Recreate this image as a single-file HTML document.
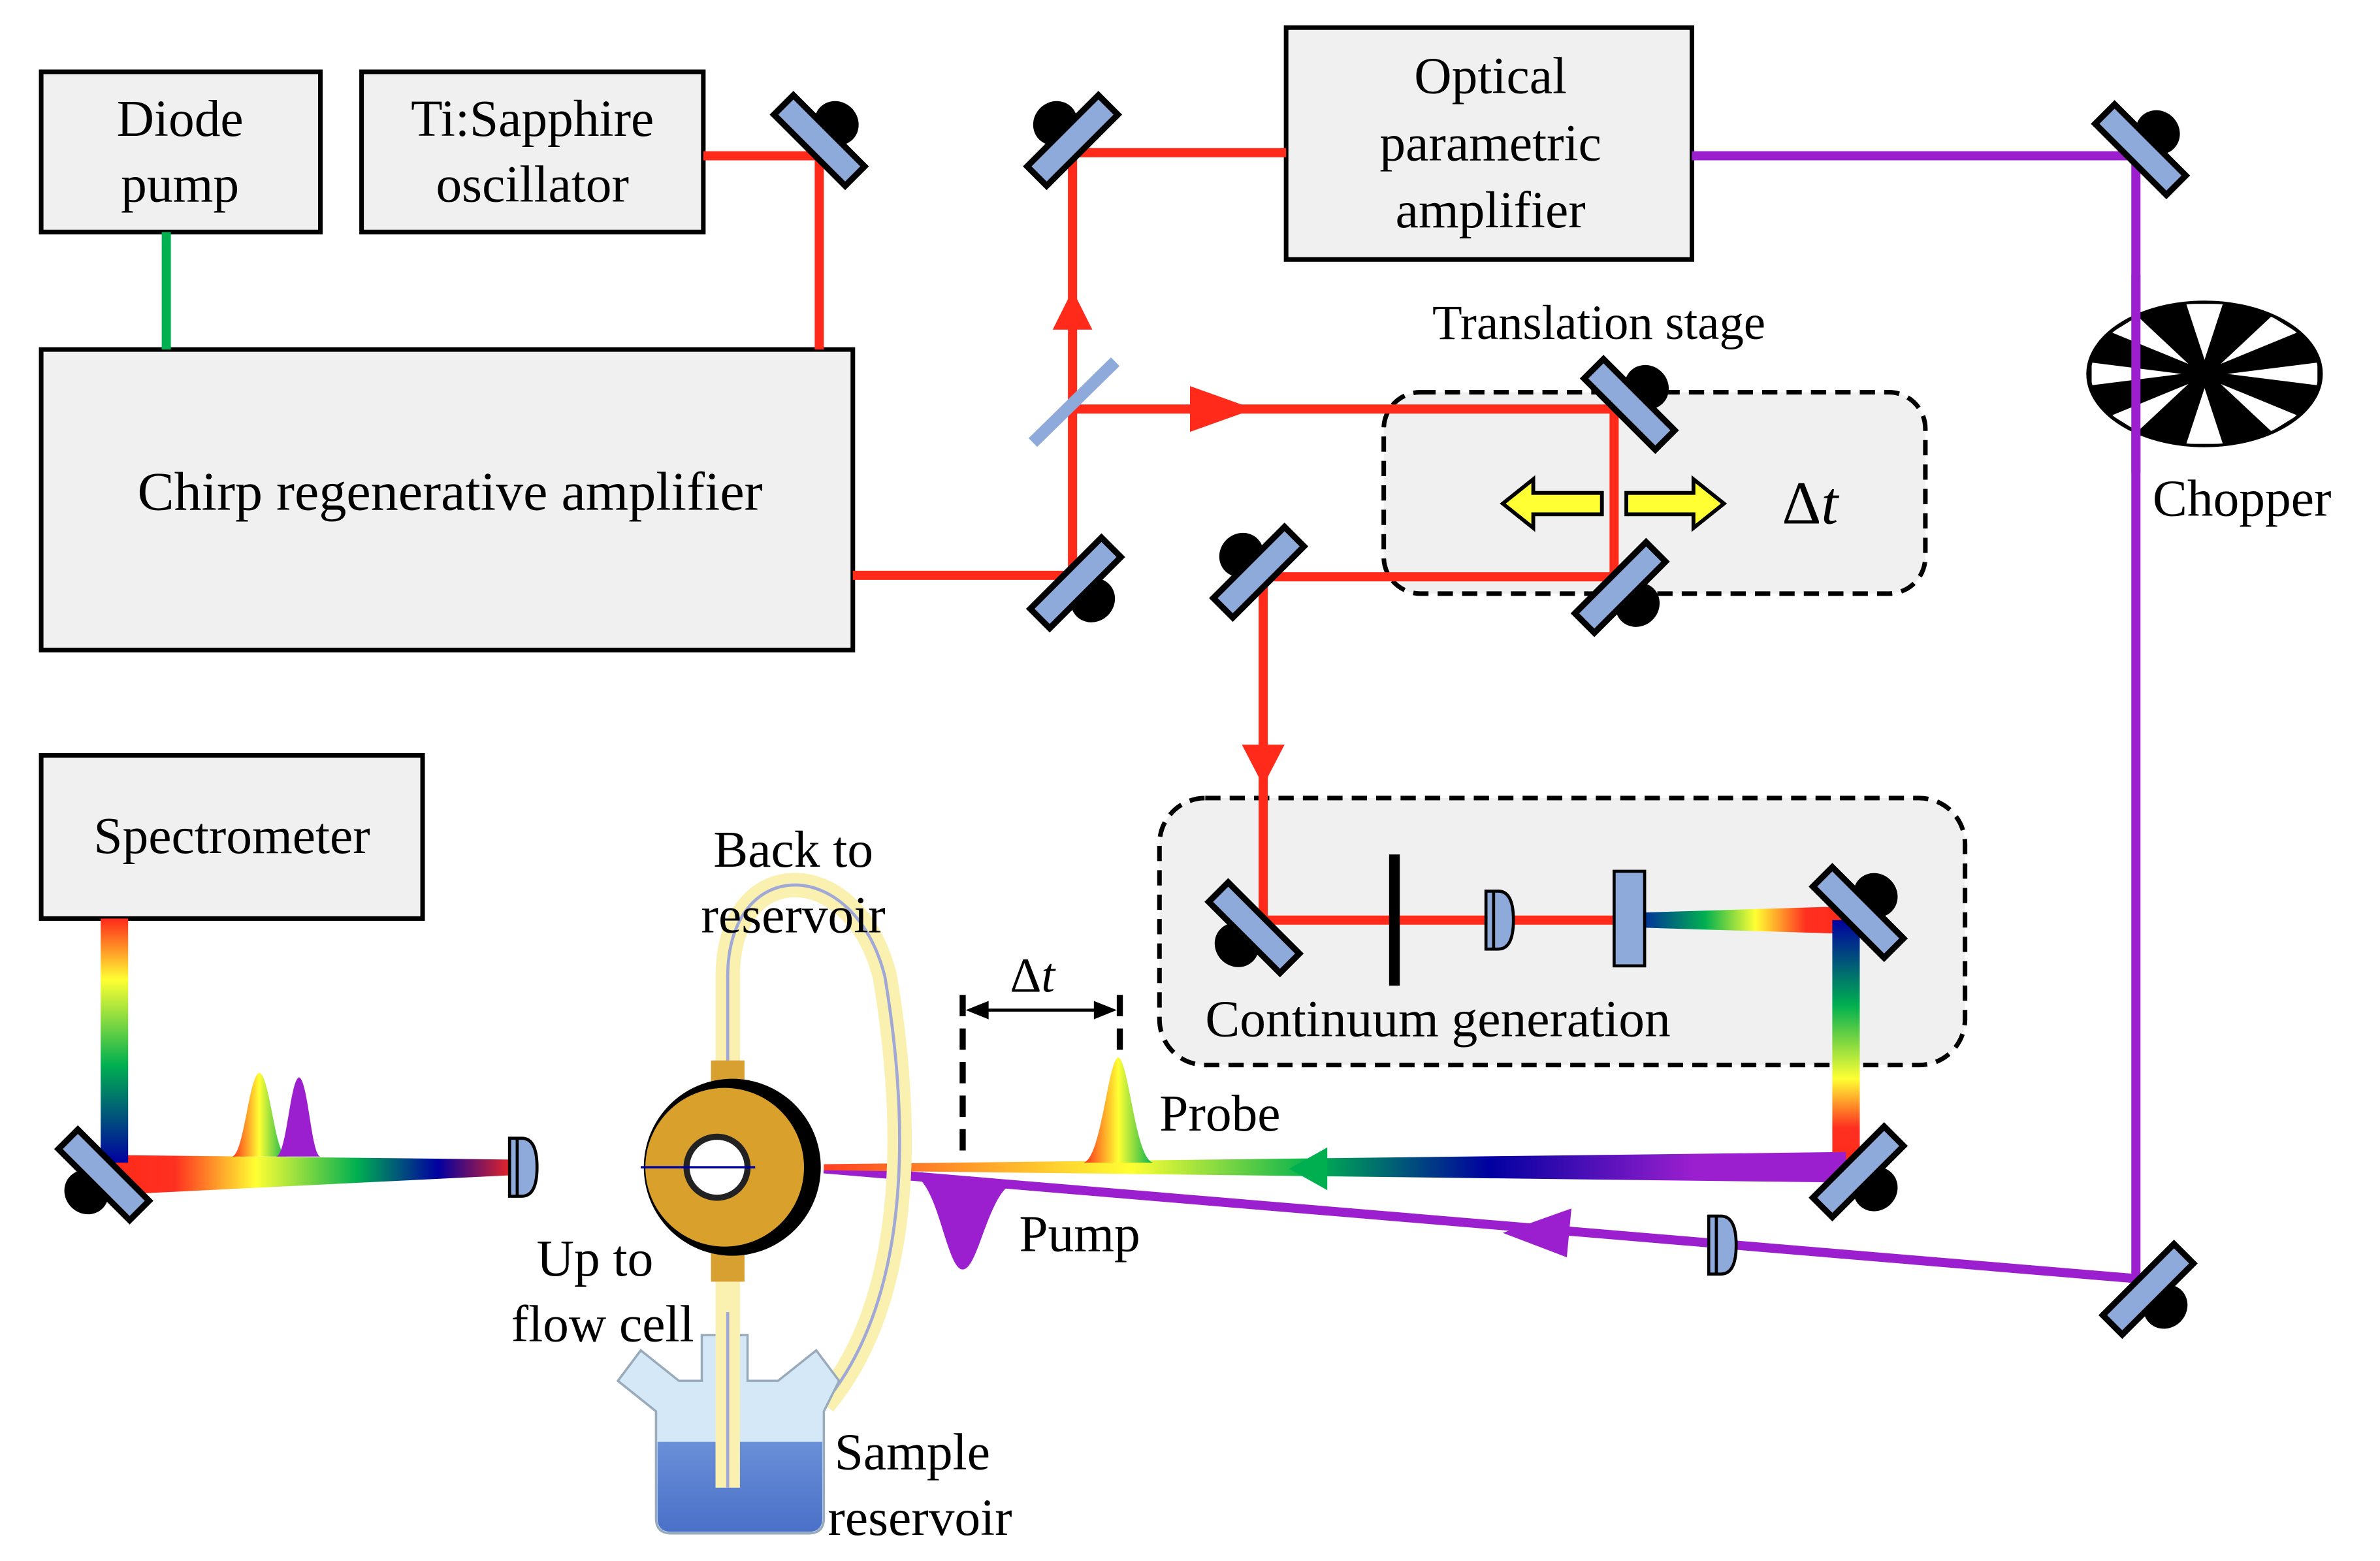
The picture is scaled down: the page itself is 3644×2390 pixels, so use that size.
<!DOCTYPE html>
<html><head><meta charset="utf-8"><style>
html,body{margin:0;padding:0;background:#fff;}
svg{display:block;}
text{font-family:"Liberation Serif",serif;fill:#000;}
</style></head><body>
<svg width="3644" height="2390" viewBox="0 0 1560 1023" xmlns="http://www.w3.org/2000/svg">
<defs>
<g id="m">
  <ellipse cx="0" cy="16" rx="15" ry="14" fill="#000"/>
  <rect x="-33" y="-9" width="66" height="18" fill="#8eaadb" stroke="#000" stroke-width="4"/>
</g>
<g id="lens">
  <path d="M-8,-19 L0,-19 Q10,-19 10,0 Q10,19 0,19 L-8,19 Z" fill="#8eaadb" stroke="#000" stroke-width="2"/>
  <line x1="-3" y1="-19" x2="-3" y2="19" stroke="#000" stroke-width="2"/>
</g>
<linearGradient id="vg1" x1="0" y1="0" x2="1" y2="0">
  <stop offset="0" stop-color="#003399"/><stop offset="0.3" stop-color="#00b050"/><stop offset="0.55" stop-color="#ffff33"/><stop offset="0.8" stop-color="#ff3020"/><stop offset="1" stop-color="#ff2a1a"/>
</linearGradient>
<linearGradient id="vg2" x1="0" y1="0" x2="0" y2="1">
  <stop offset="0" stop-color="#0000a0"/><stop offset="0.35" stop-color="#00b050"/><stop offset="0.65" stop-color="#ffff33"/><stop offset="0.85" stop-color="#ff3020"/><stop offset="1" stop-color="#ff2a1a"/>
</linearGradient>
<linearGradient id="probe" x1="0" y1="0" x2="1" y2="0">
  <stop offset="0" stop-color="#ff4020"/><stop offset="0.3" stop-color="#ffff33"/><stop offset="0.48" stop-color="#00b050"/><stop offset="0.65" stop-color="#0000a0"/><stop offset="0.85" stop-color="#9b1fcf"/><stop offset="1" stop-color="#9b1fcf"/>
</linearGradient>
<linearGradient id="left" x1="0" y1="0" x2="1" y2="0">
  <stop offset="0" stop-color="#ff2a1a"/><stop offset="0.15" stop-color="#ff3020"/><stop offset="0.35" stop-color="#ffff33"/><stop offset="0.6" stop-color="#00b050"/><stop offset="0.8" stop-color="#0000a0"/><stop offset="1" stop-color="#ff2a1a"/>
</linearGradient>
<linearGradient id="spec" x1="0" y1="0" x2="0" y2="1">
  <stop offset="0" stop-color="#ff2a1a"/><stop offset="0.25" stop-color="#ffff33"/><stop offset="0.6" stop-color="#00b050"/><stop offset="1" stop-color="#0000a0"/>
</linearGradient>
<linearGradient id="pulse" x1="0" y1="0" x2="1" y2="0">
  <stop offset="0" stop-color="#ff2a1a"/><stop offset="0.5" stop-color="#ffff33"/><stop offset="1" stop-color="#00b050"/>
</linearGradient>
<linearGradient id="cell" x1="0" y1="0" x2="1" y2="0">
  <stop offset="0" stop-color="#ffff33"/><stop offset="0.5" stop-color="#00b050"/><stop offset="1" stop-color="#0000a0"/>
</linearGradient>
<linearGradient id="water" x1="0" y1="0" x2="0" y2="1">
  <stop offset="0" stop-color="#6a8fd8"/><stop offset="1" stop-color="#4a70c8"/>
</linearGradient>
</defs>

<!-- Boxes -->
<rect x="27" y="47" width="183" height="105" fill="#f0f0f0" stroke="#000" stroke-width="3"/>
<text x="118" y="89" font-size="34" text-anchor="middle">Diode</text>
<text x="118" y="132" font-size="34" text-anchor="middle">pump</text>
<rect x="237" y="47" width="224" height="105" fill="#f0f0f0" stroke="#000" stroke-width="3"/>
<text x="349" y="89" font-size="34" text-anchor="middle">Ti:Sapphire</text>
<text x="349" y="132" font-size="34" text-anchor="middle">oscillator</text>
<rect x="27" y="229" width="532" height="197" fill="#f0f0f0" stroke="#000" stroke-width="3"/>
<text x="295" y="334" font-size="36" text-anchor="middle">Chirp regenerative amplifier</text>
<rect x="843" y="18" width="266" height="152" fill="#f0f0f0" stroke="#000" stroke-width="3"/>
<text x="977" y="61" font-size="34" text-anchor="middle">Optical</text>
<text x="977" y="105" font-size="34" text-anchor="middle">parametric</text>
<text x="977" y="149" font-size="34" text-anchor="middle">amplifier</text>
<rect x="27" y="495" width="250" height="107" fill="#f0f0f0" stroke="#000" stroke-width="3"/>
<text x="152" y="559" font-size="34" text-anchor="middle">Spectrometer</text>

<!-- dashed boxes -->
<rect x="907" y="257" width="355" height="132" rx="24" fill="#f0f0f0" stroke="#000" stroke-width="3" stroke-dasharray="10,6"/>
<rect x="760" y="523" width="528" height="175" rx="30" fill="#f0f0f0" stroke="#000" stroke-width="3" stroke-dasharray="10,6"/>

<!-- green -->
<line x1="109" y1="152" x2="109" y2="229" stroke="#00b050" stroke-width="6"/>
<!-- red beams -->
<g stroke="#ff2a1a" stroke-width="6" fill="none">
<polyline points="461,102 537,102 537,229"/>
<polyline points="559,377 703,377 703,100 843,100"/>
<polyline points="703,268 1058,268 1058,378 828,378 828,603 1060,603"/>
</g>
<polygon points="703,190 690,216 716,216" fill="#ff2a1a"/>
<polygon points="822,268 780,253 780,283" fill="#ff2a1a"/>
<polygon points="828,515 814,488 842,488" fill="#ff2a1a"/>
<line x1="677" y1="290" x2="731" y2="237" stroke="#8eaadb" stroke-width="8"/>

<!-- translation stage contents -->
<text x="1048" y="222" font-size="32" text-anchor="middle">Translation stage</text>
<polygon points="985,330 1005,314 1005,323 1050,323 1050,337 1005,337 1005,346" fill="#ffff33" stroke="#000" stroke-width="2.5"/>
<polygon points="1130,330 1110,314 1110,323 1066,323 1066,337 1110,337 1110,346" fill="#ffff33" stroke="#000" stroke-width="2.5"/>
<text x="1168" y="343" font-size="40"><tspan>Δ</tspan><tspan font-style="italic">t</tspan></text>

<!-- purple -->
<g stroke="#9b1fcf" stroke-width="6" fill="none">
<polyline points="1109,102 1400,102 1400,838 540,766"/>
</g>
<polygon points="985,808 1030,792 1027,824" fill="#9b1fcf"/>

<!-- chopper -->
<g transform="translate(1445,245) scale(1,0.62)">
  <circle r="76" fill="#000"/>
  <g fill="#fff">
    <path d="M0,-15 L-12,-74 L12,-74 Z"/>
    <path d="M0,15 L-12,74 L12,74 Z"/>
    <path d="M-15,0 L-74,-12 L-74,12 Z"/>
    <path d="M15,0 L74,-12 L74,12 Z"/>
    <g transform="rotate(45)"><path d="M0,-15 L-12,-74 L12,-74 Z"/><path d="M0,15 L-12,74 L12,74 Z"/><path d="M-15,0 L-74,-12 L-74,12 Z"/><path d="M15,0 L74,-12 L74,12 Z"/></g>
  </g>
  <circle r="76" fill="none" stroke="#000" stroke-width="3"/>
</g>
<line x1="1400" y1="180" x2="1400" y2="310" stroke="#9b1fcf" stroke-width="6"/>
<text x="1411" y="338" font-size="34">Chopper</text>

<!-- continuum contents -->
<line x1="914" y1="560" x2="914" y2="646" stroke="#000" stroke-width="7"/>
<use href="#lens" transform="translate(982,603)"/>
<polygon points="1078,598 1210,594 1210,612 1078,608" fill="url(#vg1)"/>
<rect x="1058" y="571" width="20" height="62" fill="#8eaadb" stroke="#000" stroke-width="2"/>
<rect x="1201" y="603" width="18" height="160" fill="url(#vg2)"/>
<text x="790" y="679" font-size="34">Continuum generation</text>

<!-- probe beam -->
<polygon points="1210,755 1210,775 540,767 540,763" fill="url(#probe)"/>
<polygon points="845,766 870,752 870,780" fill="#00b050"/>
<text x="760" y="741" font-size="34">Probe</text>
<text x="668" y="820" font-size="34">Pump</text>
<!-- probe pulse -->
<path d="M710,762 C722,760 726,695 733,693 C740,695 744,760 756,762 Z" fill="url(#pulse)"/>
<!-- pump pulse -->
<path d="M597,770 C615,772 620,832 631,832 C642,832 648,776 668,774 Z" fill="#9b1fcf"/>
<!-- dt markers -->
<line x1="631" y1="652" x2="631" y2="760" stroke="#000" stroke-width="4" stroke-dasharray="14,8"/>
<line x1="734" y1="652" x2="734" y2="695" stroke="#000" stroke-width="4" stroke-dasharray="14,8"/>
<line x1="640" y1="662" x2="725" y2="662" stroke="#000" stroke-width="2"/>
<polygon points="633,662 648,656 648,668" fill="#000"/>
<polygon points="732,662 717,656 717,668" fill="#000"/>
<text x="662" y="650" font-size="32"><tspan>Δ</tspan><tspan font-style="italic">t</tspan></text>

<!-- left beams -->
<polygon points="75,757 340,760 340,770 75,783" fill="url(#left)"/>
<line x1="340" y1="765" x2="420" y2="765" stroke="url(#cell)" stroke-width="4"/>
<rect x="66" y="602" width="18" height="160" fill="url(#spec)"/>
<path d="M152,758 C160,757 163,705 170,703 C177,705 180,757 188,758 Z" fill="url(#pulse)"/>
<path d="M181,758 C188,757 190,708 196,706 C202,708 204,757 210,758 Z" fill="#9b1fcf"/>
<use href="#lens" transform="translate(342,765)"/>

<!-- flow cell tubes -->
<path d="M477,700 L477,640 C477,560 560,560 580,640 C600,760 590,860 540,920" fill="none" stroke="#faf0b0" stroke-width="16"/>
<path d="M477,700 L477,640 C477,560 560,560 580,640 C600,760 590,860 540,920" fill="none" stroke="#a0a8d8" stroke-width="2"/>
<!-- beaker -->
<path d="M420,885 L405,905 L430,925 L430,995 Q430,1005 440,1005 L530,1005 Q540,1005 540,995 L540,925 L550,905 L535,885 L510,905 L490,905 L490,875 L460,875 L460,905 L445,905 Z" fill="#d4e8f8" stroke="#9ab" stroke-width="1.5"/>
<path d="M431,945 L539,945 L539,995 Q539,1004 530,1004 L440,1004 Q431,1004 431,995 Z" fill="url(#water)"/>
<line x1="477" y1="830" x2="477" y2="975" stroke="#faf0b0" stroke-width="16"/>
<line x1="477" y1="860" x2="477" y2="975" stroke="#a0a8d8" stroke-width="2"/>
<rect x="466" y="695" width="22" height="145" fill="#d8a030"/>
<circle cx="480" cy="765" r="58" fill="#000"/>
<circle cx="475" cy="765" r="52" fill="#daa02c"/>
<circle cx="470" cy="765" r="20" fill="#fff" stroke="#222" stroke-width="4"/>
<line x1="420" y1="765" x2="495" y2="765" stroke="#0000a0" stroke-width="1.5"/>

<text x="520" y="568" font-size="34" text-anchor="middle">Back to</text>
<text x="520" y="611" font-size="34" text-anchor="middle">reservoir</text>
<text x="390" y="836" font-size="34" text-anchor="middle">Up to</text>
<text x="395" y="879" font-size="34" text-anchor="middle">flow cell</text>
<text x="598" y="963" font-size="34" text-anchor="middle">Sample</text>
<text x="603" y="1006" font-size="34" text-anchor="middle">reservoir</text>

<!-- lens on pump -->
<use href="#lens" transform="translate(1128,816)"/>

<!-- mirrors -->
<use href="#m" transform="translate(537,92) rotate(225)"/>
<use href="#m" transform="translate(703,92) rotate(135)"/>
<use href="#m" transform="translate(705,382) rotate(-45)"/>
<use href="#m" transform="translate(1068,265) rotate(225)"/>
<use href="#m" transform="translate(1062,385) rotate(-45)"/>
<use href="#m" transform="translate(825,375) rotate(135)"/>
<use href="#m" transform="translate(1403,98) rotate(225)"/>
<use href="#m" transform="translate(1408,845) rotate(-45)"/>
<use href="#m" transform="translate(822,608) rotate(45)"/>
<use href="#m" transform="translate(1218,598) rotate(225)"/>
<use href="#m" transform="translate(1218,768) rotate(-45)"/>
<use href="#m" transform="translate(68,770) rotate(45)"/>
</svg>
</body></html>
